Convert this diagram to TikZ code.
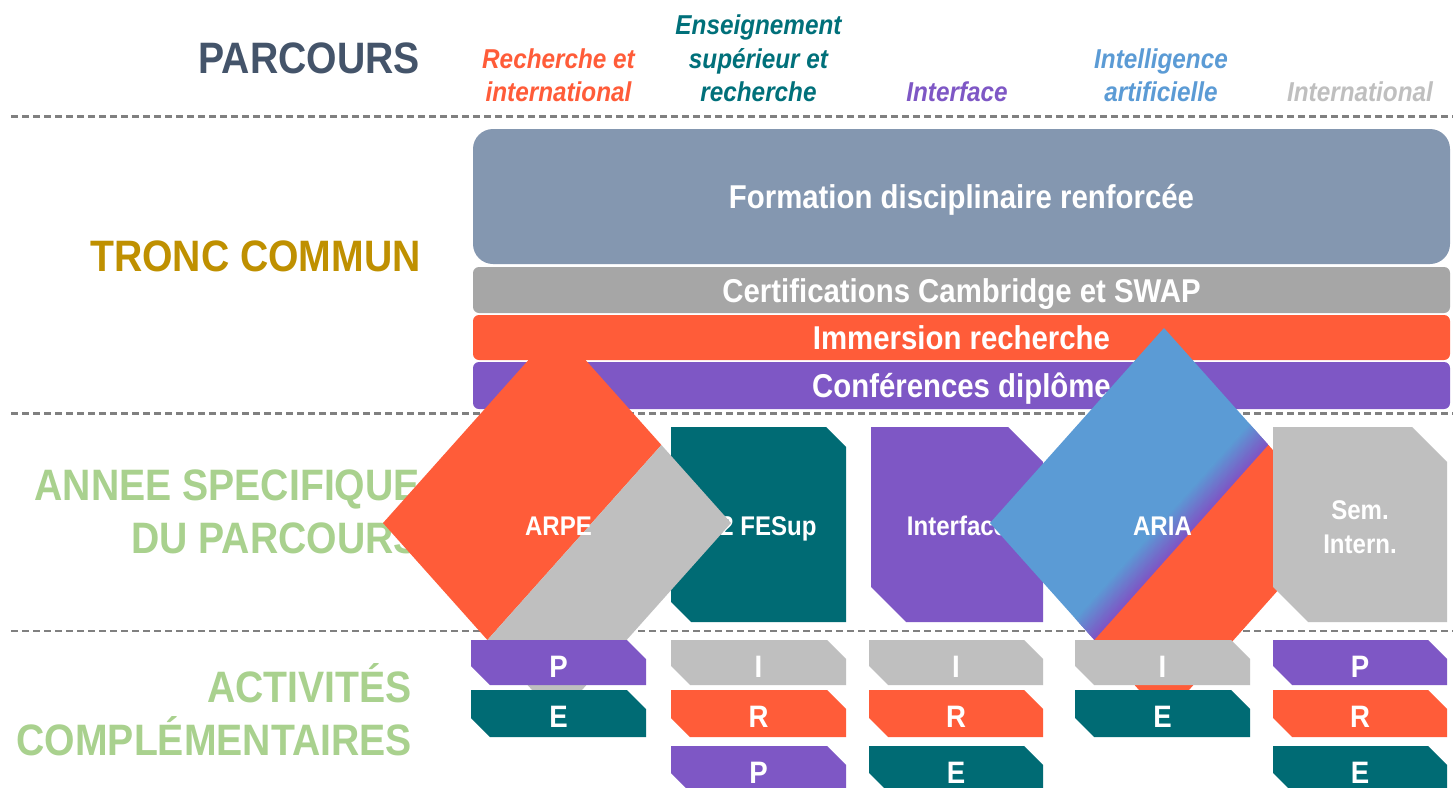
\documentclass[tikz,border=0pt]{standalone}
\usepackage{fontspec}
\setmainfont{Liberation Sans}[FakeStretch=0.89]
\usetikzlibrary{calc}
\definecolor{cOrange}{HTML}{FF5C39}
\definecolor{cPurple}{HTML}{7E57C5}
\definecolor{cTeal}{HTML}{006B74}
\definecolor{cGray}{HTML}{BFBFBF}
\definecolor{cBlue}{HTML}{5B9BD5}
\definecolor{cSlate}{HTML}{8497B0}
\definecolor{cCert}{HTML}{A6A6A6}
\definecolor{cTitle}{HTML}{44546A}
\definecolor{cGold}{HTML}{BF9000}
\definecolor{cGreen}{HTML}{A9D18E}
\definecolor{cDash}{HTML}{808080}
\definecolor{cHdrTeal}{HTML}{00707A}
% snipped box: x1,y1,x2,y2,snip,colour
\newcommand\snipbox[6]{\fill[#6] (#1,#2) -- ({#3-#5},#2) -- (#3,{#2+#5}) -- (#3,#4) -- ({#1+#5},#4) -- (#1,{#4-#5}) -- cycle;}
\begin{document}
\begin{tikzpicture}[x=1pt,y=-1pt,
  lbl/.style={font=\fontsize{44}{44}\selectfont\bfseries, anchor=base east, inner sep=0},
  hdr/.style={font=\fontsize{27.3}{33}\selectfont\bfseries\itshape, anchor=base, inner sep=0},
  bartxt/.style={font=\fontsize{33}{33}\selectfont\bfseries, text=white, anchor=base, inner sep=0},
  coltxt/.style={font=\fontsize{27}{27}\selectfont\bfseries, text=white, anchor=base, inner sep=0},
  tagtxt/.style={font=\fontsize{31}{31}\selectfont\bfseries, text=white, anchor=base, inner sep=0},
  sepline/.style={draw=cDash, line width=2.5pt, dash pattern=on 7pt off 4pt}]
\useasboundingbox (0,0) rectangle (1453,787);
\fill[white] (0,0) rectangle (1453,787);

% separators
\draw[sepline] (11,116.5) -- (1453,116.5);
\draw[sepline] (11,413.5) -- (1453,413.5);
\draw[sepline] (11,631) -- (1453,631);

% left labels
\node[lbl, text=cTitle] (lparc) at (420,73) {PARCOURS};
\node[lbl, text=cGold] (ltronc) at (421,271) {TRONC COMMUN};
\node[lbl, text=cGreen] (lannee1) at (420,500) {ANNEE SPECIFIQUE};
\node[lbl, text=cGreen] (lannee2) at (420,553) {DU PARCOURS};
\node[lbl, text=cGreen] (lact1) at (412,702) {ACTIVITÉS};
\node[lbl, text=cGreen] (lact2) at (412,755) {COMPLÉMENTAIRES};

% headers
\node[hdr, text=cOrange] (h1a) at (558.5,68) {Recherche et};
\node[hdr, text=cOrange] (h1b) at (558.5,101) {international};
\node[hdr, text=cHdrTeal] (h2a) at (758.5,34) {Enseignement};
\node[hdr, text=cHdrTeal] (h2b) at (758.5,68) {supérieur et};
\node[hdr, text=cHdrTeal] (h2c) at (758.5,101) {recherche};
\node[hdr, text=cPurple] (h3) at (957,101) {Interface};
\node[hdr, text=cBlue] (h4a) at (1161,68) {Intelligence};
\node[hdr, text=cBlue] (h4b) at (1161,101) {artificielle};
\node[hdr, text=cGray] (h5) at (1360,101) {International};

% tronc commun bars
\fill[cSlate, rounded corners=20] (473,129) rectangle (1450,264);
\node[bartxt] (bform) at (961.5,208) {Formation disciplinaire renforcée};
\fill[cCert, rounded corners=6] (473,267) rectangle (1450,313);
\node[bartxt] (bcert) at (961.5,302) {Certifications Cambridge et SWAP};
\fill[cOrange, rounded corners=6] (473,315) rectangle (1450,360);
\node[bartxt] (bimm) at (961.5,349) {Immersion recherche};
\fill[cPurple, rounded corners=6] (473,362) rectangle (1450,409);
\node[bartxt] (bconf) at (961.5,397) {Conférences diplôme};

% column boxes (under diamonds)
\snipbox{671}{427}{846}{622}{20}{cTeal}
\node[coltxt] (cfesup) at (758.5,535) {M2 FESup};
\snipbox{871}{427}{1043}{622}{35}{cPurple}
\node[coltxt] (cinter) at (957,535) {Interface};

% ARPE diamond
\coordinate (aL) at (383,523);
\coordinate (aT) at (557,328);
\coordinate (aR) at (731,523);
\coordinate (aB) at (557,718);
\fill[cOrange] (aL) -- (aT) -- ($(aT)!0.6!(aR)$) -- ($(aL)!0.6!(aB)$) -- cycle;
\fill[cGray] ($(aL)!0.6!(aB)$) -- ($(aT)!0.6!(aR)$) -- (aR) -- (aB) -- cycle;
\node[coltxt] (carpe) at (558.5,535) {ARPE};

% ARIA diamond
\coordinate (iL) at (990,523);
\coordinate (iT) at (1164,328);
\coordinate (iR) at (1338,523);
\coordinate (iB) at (1164,718);
\fill[cBlue] (iL) -- (iT) -- ($(iT)!0.49!(iR)$) -- ($(iL)!0.49!(iB)$) -- cycle;
\foreach \i in {0,...,21} {
  \pgfmathsetmacro\va{0.488+\i*0.005}
  \pgfmathsetmacro\vb{0.498+\i*0.005}
  \pgfmathtruncatemacro\p{100-\i*100/21}
  \fill[cBlue!\p!cPurple] ($(iL)!\va!(iB)$) -- ($(iT)!\va!(iR)$) -- ($(iT)!\vb!(iR)$) -- ($(iL)!\vb!(iB)$) -- cycle;
}
\fill[cOrange] ($(iL)!0.6!(iB)$) -- ($(iT)!0.6!(iR)$) -- (iR) -- (iB) -- cycle;
\node[coltxt] (caria) at (1162.5,535) {ARIA};

% Sem. Intern. box (over ARIA)
\snipbox{1273}{427}{1447}{622}{35}{cGray}
\node[coltxt] (csem1) at (1360,519) {Sem.};
\node[coltxt] (csem2) at (1360,553) {Intern.};

% activity tags
\snipbox{471}{640}{646}{685}{19}{cPurple}
\node[tagtxt] (t11) at (558.5,677) {P};
\snipbox{471}{690}{646}{737}{19}{cTeal}
\node[tagtxt] (t12) at (558.5,727) {E};

\snipbox{671}{640}{846}{685}{19}{cGray}
\node[tagtxt] (t21) at (758.5,677) {I};
\snipbox{671}{690}{846}{737}{19}{cOrange}
\node[tagtxt] (t22) at (758.5,727) {R};
\snipbox{671}{746}{846}{792}{19}{cPurple}
\node[tagtxt] (t23) at (758.5,783) {P};

\snipbox{869}{640}{1043}{685}{19}{cGray}
\node[tagtxt] (t31) at (956,677) {I};
\snipbox{869}{690}{1043}{737}{19}{cOrange}
\node[tagtxt] (t32) at (956,727) {R};
\snipbox{869}{746}{1043}{792}{19}{cTeal}
\node[tagtxt] (t33) at (956,783) {E};

\snipbox{1075}{640}{1250}{685}{19}{cGray}
\node[tagtxt] (t41) at (1162.5,677) {I};
\snipbox{1075}{690}{1250}{737}{19}{cTeal}
\node[tagtxt] (t42) at (1162.5,727) {E};

\snipbox{1273}{640}{1447}{685}{19}{cPurple}
\node[tagtxt] (t51) at (1360,677) {P};
\snipbox{1273}{690}{1447}{737}{19}{cOrange}
\node[tagtxt] (t52) at (1360,727) {R};
\snipbox{1273}{746}{1447}{792}{19}{cTeal}
\node[tagtxt] (t53) at (1360,783) {E};
\end{tikzpicture}
\end{document}
